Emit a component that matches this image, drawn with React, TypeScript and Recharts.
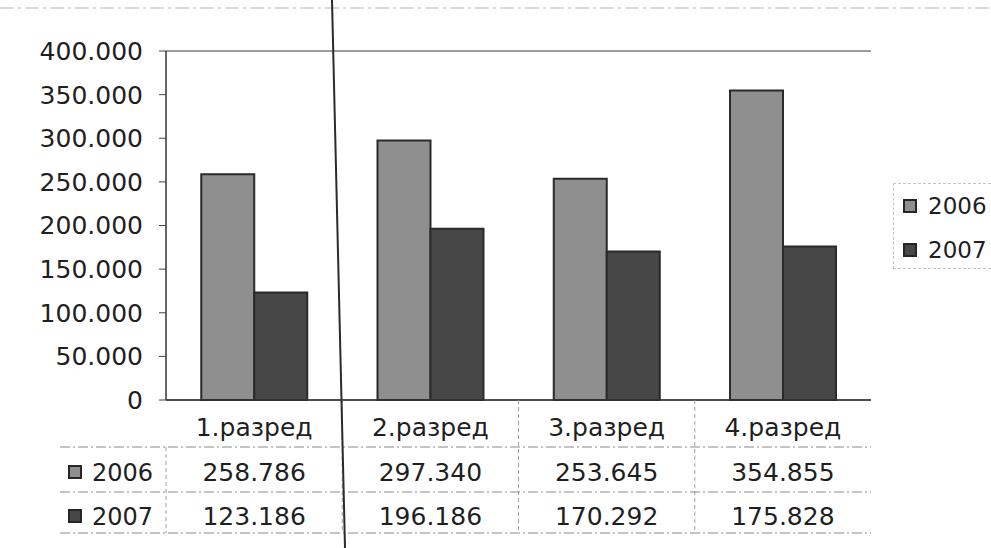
import { BarChart, Bar, XAxis, YAxis, CartesianGrid, Legend } from 'recharts';

document.body.style.margin = '0';

const categories = ['1.разред', '2.разред', '3.разред', '4.разред'];
const values2006 = [258786, 297340, 253645, 354855];
const values2007 = [123186, 196186, 170292, 175828];
const yTicks = [0, 50000, 100000, 150000, 200000, 250000, 300000, 350000, 400000];

const series = [
    { key: 'y2006', name: '2006', values: values2006, fill: '#8f8f8f' },
    { key: 'y2007', name: '2007', values: values2007, fill: '#474747' },
];

const data = categories.map((c, i) => ({
    category: c,
    y2006: values2006[i],
    y2007: values2007[i],
}));

const W = 991;
const H = 548;
const PLOT_LEFT = 166;
const PLOT_RIGHT = 871;
const PLOT_TOP = 51;
const PLOT_BOTTOM = 400;
const BAND = (PLOT_RIGHT - PLOT_LEFT) / categories.length;
const FONT = '"DejaVu Sans", Verdana, sans-serif';
const TEXT = '#1f1f1f';

// row separators of the data table under the plot
const ROW_LINES = [447, 492, 533];
const ROW_CENTERS = [472, 516];

const fmt = (v: number) =>
    v === 0 ? '0' : v.toLocaleString('en-US').replace(/,/g, '.');

function TableTick(props: any) {
    const { x, payload, index } = props;
    const i = index ?? categories.indexOf(payload.value);
    const left = x - BAND / 2;
    return (
        <g>
            {i === 0 && (
                <g>
                    {ROW_LINES.map((y) => (
                        <line key={y} x1={60} x2={PLOT_RIGHT} y1={y} y2={y}
                            stroke="#8a8a8a" strokeDasharray="10 3 2 3" strokeWidth={1} />
                    ))}
                    <line x1={PLOT_LEFT} x2={PLOT_LEFT} y1={ROW_LINES[0]} y2={ROW_LINES[2]}
                        stroke="#a0a0a0" strokeDasharray="4 3" />
                    {series.map((s, r) => (
                        <g key={s.key}>
                            <rect x={69} y={ROW_CENTERS[r] - 6} width={12} height={12}
                                fill={s.fill} stroke="#262626" strokeWidth={2} />
                            <text x={92} y={ROW_CENTERS[r]} dy="0.36em" fontSize={24}
                                fontFamily={FONT} fill={TEXT}>{s.name}</text>
                        </g>
                    ))}
                </g>
            )}
            {i > 0 && (
                <line x1={left} x2={left} y1={PLOT_BOTTOM} y2={ROW_LINES[2]}
                    stroke="#a0a0a0" strokeDasharray="4 3" />
            )}
            <text x={x} y={427} dy="0.36em" textAnchor="middle" fontSize={25}
                fontFamily={FONT} fill={TEXT}>{payload.value}</text>
            {series.map((s, r) => (
                <text key={s.key} x={x} y={ROW_CENTERS[r]} dy="0.36em" textAnchor="middle"
                    fontSize={25} fontFamily={FONT} fill={TEXT}>{fmt(s.values[i])}</text>
            ))}
        </g>
    );
}

function SideLegend() {
    return (
        <div style={{
            border: '1px dashed #c4c4c4', borderRight: 'none', width: 98, height: 86,
            boxSizing: 'border-box', paddingLeft: 9, fontFamily: FONT,
        }}>
            {series.map((s) => (
                <div key={s.key} style={{ display: 'flex', alignItems: 'center', height: 44 }}>
                    <span style={{
                        display: 'inline-block', width: 10, height: 10, background: s.fill,
                        border: '2px solid #262626', marginRight: 11,
                    }} />
                    <span style={{ fontSize: 23, color: TEXT, lineHeight: '24px' }}>{s.name}</span>
                </div>
            ))}
        </div>
    );
}

export default function App() {
    return (
        <div style={{ position: 'relative', width: W, height: H, background: '#fff' }}>
            <BarChart width={W} height={H} data={data}
                margin={{ top: PLOT_TOP, right: W - PLOT_RIGHT, left: 0, bottom: 0 }}
                barGap={0} barCategoryGap="20%">
                <CartesianGrid vertical={false} stroke="#3a3a3a" strokeWidth={1.2} />
                <XAxis dataKey="category" height={H - PLOT_BOTTOM} interval={0}
                    tickLine={false} axisLine={{ stroke: '#333', strokeWidth: 1.5 }}
                    tick={<TableTick />} />
                <YAxis yAxisId="left" width={PLOT_LEFT} domain={[0, 400000]} ticks={yTicks}
                    tickFormatter={fmt} tickSize={7} tickMargin={16} interval={0}
                    axisLine={{ stroke: '#333', strokeWidth: 1.5 }} tickLine={{ stroke: '#444' }}
                    tick={{ fontSize: 25, fontFamily: FONT, fill: TEXT }} />
                <YAxis yAxisId="right" orientation="right" width={0} tick={false}
                    axisLine={{ stroke: '#444', strokeWidth: 1.2 }} />
                <Legend layout="horizontal" align="center" verticalAlign="middle"
                    wrapperStyle={{ position: 'absolute', left: 893, top: 183, width: 98 }}
                    content={() => <SideLegend />} />
                {series.map((s) => (
                    <Bar key={s.key} yAxisId="left" dataKey={s.key} name={s.name} fill={s.fill}
                        stroke="#2a2a2a" strokeWidth={2} isAnimationActive={false} />
                ))}
            </BarChart>
            <svg width={W} height={H} style={{ position: 'absolute', left: 0, top: 0, pointerEvents: 'none' }}>
                <line x1={0} x2={W} y1={8} y2={8} stroke="#b5b5b5" strokeDasharray="14 4 3 4" />
                <line x1={332} y1={0} x2={345} y2={H} stroke="#2b2b2b" strokeWidth={2} />
            </svg>
        </div>
    );
}
